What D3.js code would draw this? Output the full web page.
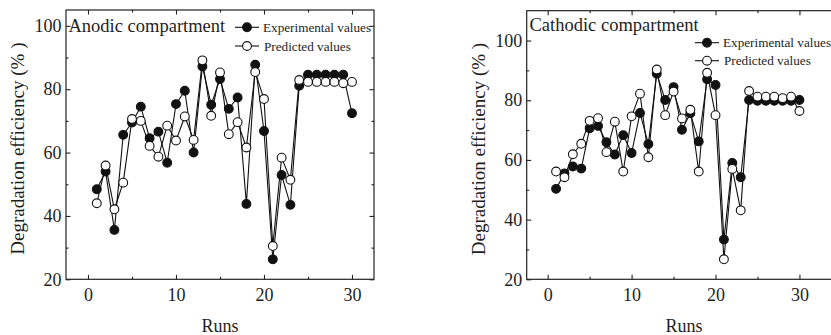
<!DOCTYPE html>
<html>
<head>
<meta charset="utf-8">
<script src="https://cdn.jsdelivr.net/npm/d3@7/dist/d3.min.js"></script>
<style>
  body { margin: 0; background: #fff; }
  svg text { font-family: "Liberation Serif", "Times New Roman", serif; fill: #1e1e1e; }
</style>
</head>
<body>
<svg id="chart" width="831" height="335"></svg>
<script>
// run numbers
var runs = [1, 2, 3, 4, 5, 6, 7, 8, 9, 10, 11, 12, 13, 14, 15, 16, 17, 18, 19, 20, 21, 22, 23, 24, 25, 26, 27, 28, 29, 30];

// anodic compartment
var anodicExp = [48.4, 54.0, 35.6, 65.6, 69.5, 74.5, 64.5, 66.6, 56.8, 75.3, 79.5, 60.0, 87.2, 75.1, 83.2, 73.8, 77.4, 43.8, 87.7, 66.8, 26.3, 52.9, 43.5, 81.1, 84.6, 84.6, 84.6, 84.6, 84.6, 72.4];
var anodicPred = [44.0, 55.9, 42.1, 50.5, 70.6, 70.0, 62.1, 58.7, 68.5, 63.8, 71.4, 64.0, 89.1, 71.6, 85.3, 65.8, 69.6, 61.6, 85.4, 76.9, 30.5, 58.4, 51.4, 82.9, 82.3, 82.3, 82.3, 82.3, 81.9, 82.3];

// cathodic compartment
var cathodicExp = [50.3, 55.5, 57.8, 57.1, 70.6, 71.4, 65.9, 61.8, 68.3, 62.3, 75.7, 65.3, 88.9, 80.1, 84.4, 70.1, 75.6, 66.2, 87.0, 85.1, 33.3, 59.0, 54.2, 80.1, 79.8, 79.8, 79.8, 79.8, 79.8, 80.1];
var cathodicPred = [56.1, 54.2, 61.9, 65.4, 73.1, 74.0, 62.6, 72.8, 56.1, 74.6, 82.2, 60.9, 90.3, 75.0, 82.9, 73.9, 76.8, 56.1, 89.2, 75.0, 26.7, 57.0, 43.1, 83.1, 81.2, 81.2, 81.2, 80.7, 81.2, 76.4];

var xMajor = [0, 10, 20, 30];
var xMinor = [5, 15, 25];
var yMajor = [20, 40, 60, 80, 100];
var yMinor = [30, 50, 70, 90];
var legendLabels = ["Experimental values", "Predicted values"];

var serif = '"Liberation Serif", "Times New Roman", serif';
var svg = d3.select("#chart");

function drawPanel(p) {
    var x = d3.scaleLinear().domain(p.xDomain).range([p.left, p.right]);
    var y = d3.scaleLinear().domain(p.yDomain).range([p.bottom, p.top]);
    var g = svg.append("g");

    // frame
    g.append("rect")
        .attr("x", p.left).attr("y", p.top)
        .attr("width", p.right - p.left).attr("height", p.bottom - p.top)
        .attr("fill", "none").attr("stroke", "#222").attr("stroke-width", 1.2);

    function axisStyle(sel) {
        sel.attr("font-family", null).attr("font-size", null);
        sel.select(".domain").remove();
        sel.selectAll("line").attr("stroke", "#222").attr("stroke-width", 1.1);
        sel.selectAll("text")
            .style("font-family", serif)
            .style("font-size", "18px")
            .style("fill", "#1e1e1e");
    }

    // bottom
    g.append("g").attr("transform", "translate(0," + p.bottom + ")")
        .call(d3.axisBottom(x).tickValues(xMajor).tickSizeInner(-4.5).tickSizeOuter(0).tickPadding(9))
        .call(axisStyle);
    g.append("g").attr("transform", "translate(0," + p.bottom + ")")
        .call(d3.axisBottom(x).tickValues(xMinor).tickFormat("").tickSizeInner(-2.5).tickSizeOuter(0))
        .call(axisStyle);
    // top
    g.append("g").attr("transform", "translate(0," + p.top + ")")
        .call(d3.axisTop(x).tickValues(xMajor).tickFormat("").tickSizeInner(-4.5).tickSizeOuter(0))
        .call(axisStyle);
    g.append("g").attr("transform", "translate(0," + p.top + ")")
        .call(d3.axisTop(x).tickValues(xMinor).tickFormat("").tickSizeInner(-2.5).tickSizeOuter(0))
        .call(axisStyle);
    // left
    g.append("g").attr("transform", "translate(" + p.left + ",0)")
        .call(d3.axisLeft(y).tickValues(yMajor).tickSizeInner(-4.5).tickSizeOuter(0).tickPadding(4.5))
        .call(axisStyle);
    g.append("g").attr("transform", "translate(" + p.left + ",0)")
        .call(d3.axisLeft(y).tickValues(yMinor).tickFormat("").tickSizeInner(-2.5).tickSizeOuter(0))
        .call(axisStyle);
    // right
    g.append("g").attr("transform", "translate(" + p.right + ",0)")
        .call(d3.axisRight(y).tickValues(yMajor).tickFormat("").tickSizeInner(-4.5).tickSizeOuter(0))
        .call(axisStyle);
    g.append("g").attr("transform", "translate(" + p.right + ",0)")
        .call(d3.axisRight(y).tickValues(yMinor).tickFormat("").tickSizeInner(-2.5).tickSizeOuter(0))
        .call(axisStyle);

    // axis titles
    g.append("text")
        .attr("transform", "translate(" + p.yLabelX + "," + ((p.top + p.bottom) / 2 + 4) + ") rotate(-90)")
        .attr("text-anchor", "middle").attr("dy", "0.35em")
        .style("font-size", "19px")
        .text("Degradation efficiency (% )");
    g.append("text")
        .attr("x", (p.left + p.right) / 2).attr("y", 332)
        .attr("text-anchor", "middle")
        .style("font-size", "18px")
        .text("Runs");

    // panel title
    g.append("text")
        .attr("x", p.titleX).attr("y", p.titleY).attr("dy", "0.35em")
        .style("font-size", "18.5px")
        .text(p.title);

    var line = d3.line()
        .x(function(d, i) { return x(runs[i]); })
        .y(function(d) { return y(d); });

    var series = [
        { values: p.exp, fill: "#111" },
        { values: p.pred, fill: "#fff" }
    ];

    series.forEach(function(s) {
        g.append("path")
            .datum(s.values)
            .attr("fill", "none").attr("stroke", "#111").attr("stroke-width", 1.1)
            .attr("d", line);
        g.selectAll(null)
            .data(s.values)
            .enter().append("circle")
            .attr("cx", function(d, i) { return x(runs[i]); })
            .attr("cy", function(d) { return y(d); })
            .attr("r", 4.4)
            .attr("fill", s.fill).attr("stroke", "#111").attr("stroke-width", 1.1);
    });

    // legend
    series.forEach(function(s, i) {
        var ly = p.legendY[i];
        g.append("line")
            .attr("x1", p.legendX - 12).attr("x2", p.legendX + 12)
            .attr("y1", ly).attr("y2", ly)
            .attr("stroke", "#111").attr("stroke-width", 1.1);
        g.append("circle")
            .attr("cx", p.legendX).attr("cy", ly).attr("r", 4.4)
            .attr("fill", s.fill).attr("stroke", "#111").attr("stroke-width", 1.1);
        g.append("text")
            .attr("x", p.legendX + 16 + (i == 1 ? 1 : 0)).attr("y", ly).attr("dy", "0.35em")
            .style("font-size", "13.2px")
            .text(legendLabels[i]);
    });
}

drawPanel({
    left: 66, right: 374, top: 10, bottom: 279.3,
    xDomain: [-2.5, 32.5], yDomain: [20, 105],
    exp: anodicExp, pred: anodicPred,
    title: "Anodic compartment", titleX: 68.5, titleY: 26,
    legendX: 247, legendY: [27.3, 46],
    yLabelX: 17
});

drawPanel({
    left: 526.7, right: 841.4, top: 10.7, bottom: 279.3,
    xDomain: [-2.5, 35], yDomain: [20, 110],
    exp: cathodicExp, pred: cathodicPred,
    title: "Cathodic compartment", titleX: 529.5, titleY: 25,
    legendX: 707, legendY: [42.7, 60.7],
    yLabelX: 478.5
});
</script>
</body>
</html>
